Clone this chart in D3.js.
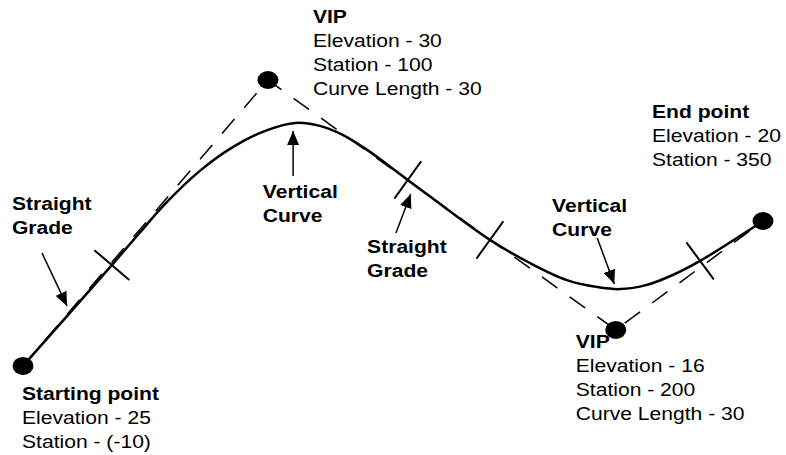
<!DOCTYPE html>
<html>
<head>
<meta charset="utf-8">
<script src="https://cdn.jsdelivr.net/npm/d3@7"></script>
<style>
  body { margin: 0; background: #fff; }
  svg { display: block; }
  text { font-family: "Liberation Sans", Arial, sans-serif; font-size: 18.5px; fill: #000; }
</style>
</head>
<body>
<div class="container-perfil">
  <svg id="vis-perfil"></svg>
</div>
<script>
// key points of the road profile (values as written on the sketch)
const pointNames      = ["Starting point", "VIP", "VIP", "End point"];
const pointElevations = [25, 30, 16, 20];
const pointStations   = ["(-10)", "100", "200", "350"];
const curveLengths    = [null, 30, 30, null];

// where the points sit on the sketch (sketch units, not to scale)
const pointU = [0, 33.1, 80.1, 100];
const pointV = [4.7, 100, 16.7, 53];

// the road itself (solid line)
const profileU = [0, 12.0, 16.2, 19.2, 23.9, 28.4, 33.0, 36.8, 40.1, 43.2, 46.5, 52.0, 63.1, 68.5, 73.5, 77.6, 80.7, 84.3, 87.8, 91.5, 100];
const profileV = [4.7, 38.3, 50.3, 58.7, 69.7, 77.7, 83.3, 85.7, 84.7, 81.7, 76.7, 66.7, 46.7, 39, 33.3, 31, 30.3, 31.7, 35, 39.7, 53];

// where straight grade meets vertical curve (profile indices)
const breakIdx = [1, 11, 12, 19];

// annotations
const noteLines = [["Straight", "Grade"], ["Vertical", "Curve"], ["Straight", "Grade"], ["Vertical", "Curve"]];

const $svg = d3.select('#vis-perfil');
const w = 786;
const h = 455;

$svg.attr('width', w).attr('height', h);

// sketch units -> pixels
const x = d3.scaleLinear().domain([0, 100]).range([23, 763]);
const y = d3.scaleLinear().domain([0, 100]).range([380, 80]);

// layout of the notes (sketch units)
const notePos   = [[-1.5, 56.7], [32.4, 60.7], [46.5, 42.3], [71.5, 56]];
const arrowTail = [[2.57, 42.3], [36.5, 68], [50.4, 49], [77.6, 47.3]];
const arrowTip  = [[5.95, 24.7], [36.5, 83], [52.4, 62], [79.9, 32]];
// label offset from each dot, px
const pointLabelOff = [[-1, 34], [45, -57], [-40, 18], [-111, -103]];

const lineH = 24;
const stretch = 1.14;

// arrow head
$svg.append('defs').append('marker')
  .attr('id', 'seta')
  .attr('viewBox', '0 0 14 12')
  .attr('refX', 14).attr('refY', 6)
  .attr('markerWidth', 14).attr('markerHeight', 12)
  .attr('markerUnits', 'userSpaceOnUse')
  .attr('orient', 'auto')
  .append('path')
  .attr('d', 'M0,0 L14,6 L0,12 Z')
  .attr('fill', '#000');

// dashed tangents between the points
const pts = pointU.map((u, i) => ({u: u, v: pointV[i]}));

$svg.append('path')
  .datum(pts)
  .attr('d', d3.line().x(d => x(d.u)).y(d => y(d.v)))
  .attr('fill', 'none')
  .attr('stroke', '#000')
  .attr('stroke-width', 1.5)
  .attr('stroke-dasharray', '19,15');

// solid road
const perfil = profileU.map((u, i) => ({u: u, v: profileV[i]}));

$svg.append('path')
  .datum(perfil)
  .attr('d', d3.line().x(d => x(d.u)).y(d => y(d.v)).curve(d3.curveCatmullRom.alpha(0.5)))
  .attr('fill', 'none')
  .attr('stroke', '#000')
  .attr('stroke-width', 2.5);

// tick marks, perpendicular to the tangent they sit on
const tickLen = 46;
const ticks = breakIdx.map(i => {
  const p = perfil[i];
  let s = 0;
  while (s < pts.length - 2 && p.u > pts[s + 1].u) s++;
  const dx = x(pts[s + 1].u) - x(pts[s].u);
  const dy = y(pts[s + 1].v) - y(pts[s].v);
  const len = Math.hypot(dx, dy);
  const nx = -dy / len, ny = dx / len;
  return {
    x1: x(p.u) - nx * tickLen / 2, y1: y(p.v) - ny * tickLen / 2,
    x2: x(p.u) + nx * tickLen / 2, y2: y(p.v) + ny * tickLen / 2
  };
});

$svg.selectAll('line.tick')
  .data(ticks)
  .enter().append('line')
  .attr('class', 'tick')
  .attr('x1', d => d.x1).attr('y1', d => d.y1)
  .attr('x2', d => d.x2).attr('y2', d => d.y2)
  .attr('stroke', '#000')
  .attr('stroke-width', 2);

// dots
$svg.selectAll('ellipse')
  .data(pts)
  .enter().append('ellipse')
  .attr('cx', d => x(d.u))
  .attr('cy', d => y(d.v))
  .attr('rx', 10.5)
  .attr('ry', 9)
  .attr('fill', '#000');

// arrows
$svg.selectAll('line.seta')
  .data(arrowTail)
  .enter().append('line')
  .attr('class', 'seta')
  .attr('x1', d => x(d[0])).attr('y1', d => y(d[1]))
  .attr('x2', (d, i) => x(arrowTip[i][0])).attr('y2', (d, i) => y(arrowTip[i][1]))
  .attr('stroke', '#000')
  .attr('stroke-width', 1.5)
  .attr('marker-end', 'url(#seta)');

// notes
const notes = $svg.selectAll('text.nota')
  .data(noteLines)
  .enter().append('text')
  .attr('class', 'nota')
  .attr('font-weight', 'bold')
  .attr('transform', (d, i) => `translate(${x(notePos[i][0])},${y(notePos[i][1])}) scale(${stretch},1)`);

notes.selectAll('tspan')
  .data(d => d)
  .enter().append('tspan')
  .attr('x', 0)
  .attr('y', (d, i) => i * lineH)
  .text(d => d);

// point labels
const rotulos = $svg.selectAll('text.ponto')
  .data(pts)
  .enter().append('text')
  .attr('class', 'ponto')
  .attr('transform', (d, i) => `translate(${x(d.u) + pointLabelOff[i][0]},${y(d.v) + pointLabelOff[i][1]}) scale(${stretch},1)`);

rotulos.each(function(d, i) {
  const linhas = [
    {t: pointNames[i], b: true},
    {t: 'Elevation - ' + pointElevations[i], b: false},
    {t: 'Station - ' + pointStations[i], b: false}
  ];
  if (curveLengths[i] != null) linhas.push({t: 'Curve Length - ' + curveLengths[i], b: false});

  d3.select(this).selectAll('tspan')
    .data(linhas)
    .enter().append('tspan')
    .attr('x', 0)
    .attr('y', (l, k) => k * lineH)
    .attr('font-weight', l => l.b ? 'bold' : 'normal')
    .text(l => l.t);
});
</script>
</body>
</html>
